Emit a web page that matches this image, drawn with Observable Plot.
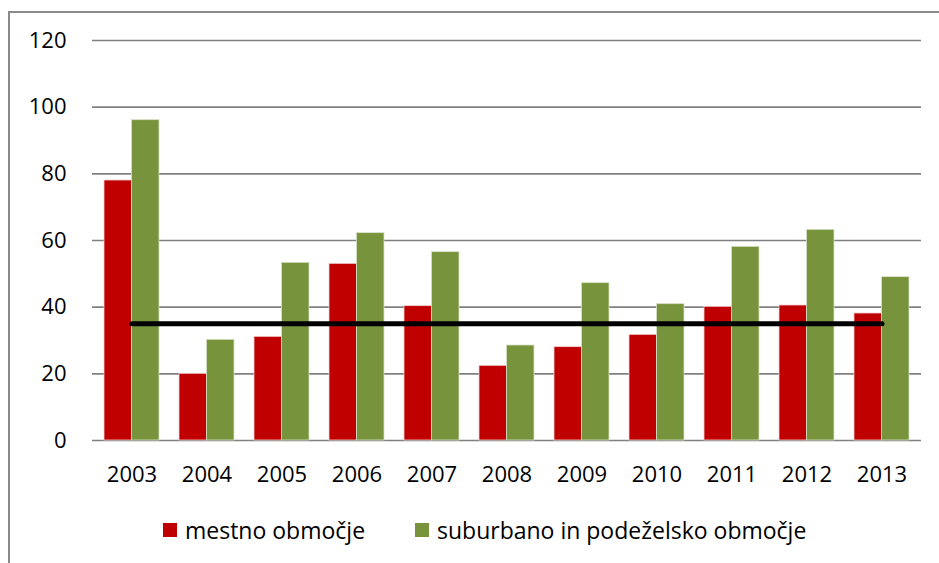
<!DOCTYPE html>
<html>
<head>
<meta charset="utf-8">
<script src="https://cdn.jsdelivr.net/npm/d3@7"></script>
<script src="https://cdn.jsdelivr.net/npm/@observablehq/plot@0.6"></script>
<style>
  html, body { margin: 0; padding: 0; background: #fff; }
  body { width: 939px; height: 563px; position: relative; overflow: hidden; font-family: "Open Sans", sans-serif; }
  #frame { position: absolute; left: 8px; top: 11px; right: -10px; bottom: -10px; border-left: 2px solid #8a8a8a; border-top: 2px solid #8a8a8a; }
  #chart { position: absolute; left: 0; top: 0; }
  .lg { position: absolute; top: 514px; font-size: 23px; line-height: 32px; color: #000; display: flex; align-items: center; white-space: nowrap; }
  .sw { width: 14px; height: 14px; display: inline-block; margin-right: 8px; }
</style>
</head>
<body>
<div id="frame"></div>
<div id="chart"></div>
<div class="lg" style="left:163px"><span class="sw" style="background:#C00000"></span>mestno območje</div>
<div class="lg" style="left:415px"><span class="sw" style="background:#77933C"></span>suburbano in podeželsko območje</div>
<script>
const years = ["2003","2004","2005","2006","2007","2008","2009","2010","2011","2012","2013"];
const urban = [78, 20, 31.1, 53, 40.3, 22.4, 28, 31.7, 40.1, 40.5, 38.1];
const rural = [96.1, 30.2, 53.3, 62.2, 56.5, 28.5, 47.2, 40.9, 58.1, 63.2, 49];
const threshold = 35;
const yTicks = [0, 20, 40, 60, 80, 100, 120];

const W = 939, H = 500, mL = 92, mR = 18, mT = 40, mB = 60;
const pIn = 0.272, pOut = 0.133;
const step = (W - mL - mR) / (years.length - pIn + 2 * pOut);
const half = step * (1 - pIn) / 2;

const urbanData = years.map((y, i) => ({year: y, value: urban[i]}));
const ruralData = years.map((y, i) => ({year: y, value: rural[i]}));

const chart = Plot.plot({
  width: W, height: H,
  marginLeft: mL, marginRight: mR, marginTop: mT, marginBottom: mB,
  style: {fontFamily: "'Open Sans', sans-serif", fontSize: "22px", color: "#000", background: "transparent"},
  x: {domain: years, paddingInner: pIn, paddingOuter: pOut, label: null, tickSize: 0, tickPadding: 26},
  y: {domain: [0, 120], ticks: yTicks, label: null, tickSize: 0, tickPadding: 26},
  marks: [
    Plot.gridY(yTicks, {stroke: "#808080", strokeOpacity: 1, strokeWidth: 1.6}),
    Plot.barY(urbanData, {x: "year", y: "value", fill: "#C00000", insetRight: half, stroke: "#f2d0d0", strokeWidth: 0.8}),
    Plot.barY(ruralData, {x: "year", y: "value", fill: "#77933C", insetLeft: half, stroke: "#d8e2c6", strokeWidth: 0.8}),
    Plot.lineY(years, {x: d => d, y: () => threshold, stroke: "#000", strokeWidth: 5, strokeLinecap: "round"})
  ]
});
document.getElementById("chart").appendChild(chart);
</script>
</body>
</html>
